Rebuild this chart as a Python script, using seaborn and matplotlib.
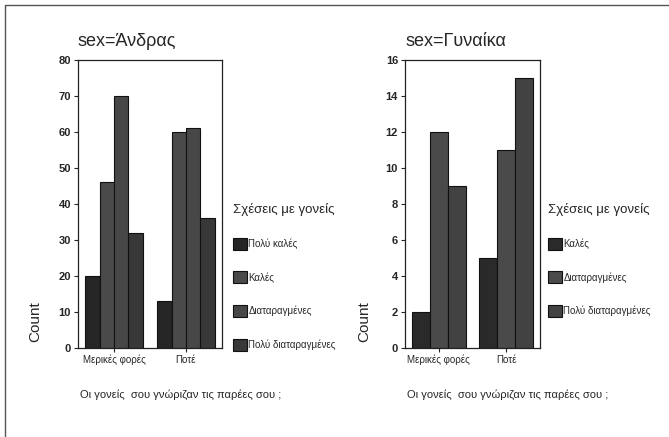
import pandas as pd
import matplotlib
matplotlib.use("Agg")
import matplotlib.pyplot as plt
import seaborn as sns

# --- data ---
groups = ['Μερικές φορές', 'Ποτέ']

male_levels = ['Πολύ καλές', 'Καλές', 'Διαταραγμένες', 'Πολύ διαταραγμένες']
male_counts = {
    'Πολύ καλές': [20, 13],
    'Καλές': [46, 60],
    'Διαταραγμένες': [70, 61],
    'Πολύ διαταραγμένες': [32, 36],
}

female_levels = ['Καλές', 'Διαταραγμένες', 'Πολύ διαταραγμένες']
female_counts = {
    'Καλές': [2, 5],
    'Διαταραγμένες': [12, 11],
    'Πολύ διαταραγμένες': [9, 15],
}

male_colors = ['#262626', '#4a4a4a', '#474747', '#383838']
female_colors = ['#2a2a2a', '#4a4a4a', '#424242']

legend_title = 'Σχέσεις με γονείς'
xlabel_text = 'Οι γονείς  σου γνώριζαν τις παρέες σου ;'


def to_long(levels, counts):
    rows = []
    for lev in levels:
        for g, v in zip(groups, counts[lev]):
            rows.append({'group': g, 'rel': lev, 'count': v})
    return pd.DataFrame(rows)


df_m = to_long(male_levels, male_counts)
df_f = to_long(female_levels, female_counts)

sns.set_style('white')
plt.rcParams['font.family'] = ['Liberation Sans', 'DejaVu Sans']

fig = plt.figure(figsize=(6.69, 4.37), dpi=100)
W, H = 669, 437


def fig_axes(x0, x1, y0, y1):
    return fig.add_axes([x0 / W, 1 - y1 / H, (x1 - x0) / W, (y1 - y0) / H])


ax1 = fig_axes(78, 222, 60, 348)
ax2 = fig_axes(405, 540, 60, 348)

panels = [
    (ax1, df_m, male_levels, male_colors, 'sex=Άνδρας', 80, 10, 228),
    (ax2, df_f, female_levels, female_colors, 'sex=Γυναίκα', 16, 2, 543),
]

for ax, df, levels, cols, title, ymax, step, legx in panels:
    sns.barplot(data=df, x='group', y='count', hue='rel', hue_order=levels,
                palette=cols, order=groups, ax=ax, edgecolor='#111111',
                linewidth=0.8, saturation=1, width=0.8)
    ax.set_ylim(0, ymax)
    ax.set_yticks(range(0, ymax + 1, step))
    ax.set_xlabel('')
    ax.set_ylabel('Count', fontsize=11)
    ax.yaxis.set_label_coords(-0.25, 0.09)
    ax.tick_params(axis='y', labelsize=8, length=3, width=0.8, left=True, pad=2)
    ax.tick_params(axis='x', labelsize=7, length=3, width=0.8, bottom=True, pad=2)
    for lbl in ax.get_yticklabels():
        lbl.set_fontweight('bold')
    for s in ax.spines.values():
        s.set_color('#222222')
        s.set_linewidth(0.9)
    ax.set_title(title, loc='left', fontsize=13, pad=10, x=0.0)
    sns.move_legend(ax, loc='upper left',
                    bbox_to_anchor=(legx / W, 1 - 198 / H),
                    bbox_transform=fig.transFigure, title=legend_title,
                    frameon=False, fontsize=7, title_fontsize=9.5,
                    labelspacing=2.25, handlelength=1.5, handleheight=1.5,
                    handletextpad=0.1, alignment='left', borderpad=0)
    fig.text((ax.get_position().x0 * W + 2) / W, 1 - 395 / H, xlabel_text,
             fontsize=8, ha='left', va='center')

# partial page frame, as in the scan
fig.add_artist(plt.Line2D([5 / W, 5 / W], [1 - 5 / H, 0], color='#555555', lw=1))
fig.add_artist(plt.Line2D([5 / W, 1], [1 - 5 / H, 1 - 5 / H], color='#555555', lw=1))

fig.savefig('out.png', dpi=100)
